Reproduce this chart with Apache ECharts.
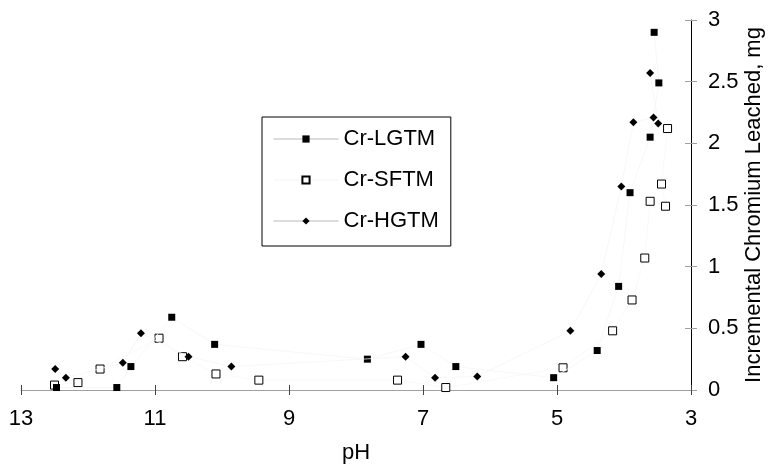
<!DOCTYPE html>
<html>
<head>
<meta charset="utf-8">
<script src="https://cdn.jsdelivr.net/npm/echarts@6/dist/echarts.min.js"></script>
<style>
html,body{margin:0;padding:0;background:#fff;}
#chart{width:768px;height:467px;}
</style>
</head>
<body>
<div id="chart"></div>
<script>
// ---- Data ----
var seriesNames = ['Cr-LGTM', 'Cr-SFTM', 'Cr-HGTM'];
var xTicks = [13, 11, 9, 7, 5, 3];
var yTicks = [0, 0.5, 1, 1.5, 2, 2.5, 3];

var lgtmPH  = [12.47, 11.57, 11.36, 10.75, 10.11, 7.83, 7.03, 6.51, 5.05, 4.40, 4.08, 3.91, 3.61, 3.48, 3.55];
var lgtmVal = [0.02, 0.02, 0.19, 0.59, 0.37, 0.25, 0.37, 0.19, 0.10, 0.32, 0.84, 1.60, 2.05, 2.49, 2.90];

var sftmPH  = [12.50, 12.15, 11.82, 10.94, 10.59, 10.09, 9.45, 7.38, 6.66, 4.91, 4.17, 3.88, 3.69, 3.61, 3.38, 3.44, 3.35];
var sftmVal = [0.04, 0.06, 0.17, 0.42, 0.27, 0.13, 0.08, 0.08, 0.02, 0.18, 0.48, 0.73, 1.07, 1.53, 1.49, 1.67, 2.12];

var hgtmPH  = [12.49, 12.33, 11.48, 11.21, 10.50, 9.86, 7.26, 6.82, 6.19, 4.80, 4.34, 4.04, 3.86, 3.56, 3.49, 3.61];
var hgtmVal = [0.17, 0.10, 0.22, 0.46, 0.27, 0.19, 0.27, 0.10, 0.11, 0.48, 0.94, 1.65, 2.17, 2.21, 2.16, 2.57];

function pairs(xs, ys) {
  return xs.map(function (x, i) { return [x, ys[i]]; });
}

var FONT = 'Liberation Sans, Arial, sans-serif';
var FS = 22;
var chart = echarts.init(document.getElementById('chart'), null, {renderer: 'canvas'});

var xMin = Math.min.apply(null, xTicks), xMax = Math.max.apply(null, xTicks);
var yMin = Math.min.apply(null, yTicks), yMax = Math.max.apply(null, yTicks);

chart.setOption({
  animation: false,
  backgroundColor: '#fff',
  textStyle: {fontFamily: FONT},
  grid: {left: 21, right: 77, top: 20, bottom: 77, containLabel: false, outerBoundsMode: 'none'},
  legend: {
    orient: 'vertical',
    left: 262, top: 117,
    borderColor: '#000', borderWidth: 1,
    padding: [11, 12, 14, 11],
    itemWidth: 65, itemHeight: 9, itemGap: 19,
    textStyle: {fontFamily: FONT, fontSize: FS, color: '#000', lineHeight: 22},
    data: [
      {name: seriesNames[0], lineStyle: {color: '#b8b8b8', width: 1}},
      {name: seriesNames[1], lineStyle: {color: '#f4f4f4', width: 1}},
      {name: seriesNames[2], lineStyle: {color: '#b8b8b8', width: 1}}
    ]
  },
  xAxis: [{
    type: 'value', inverse: true, min: xMin, max: xMax, interval: 2,
    name: 'pH', nameLocation: 'middle', nameGap: 52, nameMoveOverlap: false,
    nameTextStyle: {fontFamily: FONT, fontSize: FS, color: '#000'},
    axisLine: {show: true, lineStyle: {color: '#a0a0a0', width: 1}},
    axisTick: {show: true, length: 5, lineStyle: {color: '#444'}},
    axisLabel: {fontFamily: FONT, fontSize: FS, color: '#000', margin: 18},
    splitLine: {show: false}
  }, {
    type: 'value', inverse: true, min: xMin, max: xMax, interval: 2,
    position: 'bottom',
    axisLine: {show: false},
    axisTick: {show: true, inside: true, length: 5, lineStyle: {color: '#444'}},
    axisLabel: {show: false},
    splitLine: {show: false}
  }],
  yAxis: [{
    type: 'value', position: 'right', min: yMin, max: yMax, interval: 0.5,
    name: 'Incremental Chromium Leached, mg', nameLocation: 'middle', nameGap: 52, nameRotate: 90,
    nameMoveOverlap: false,
    nameTextStyle: {fontFamily: FONT, fontSize: FS, color: '#000'},
    axisLine: {show: true, lineStyle: {color: '#000', width: 1}},
    axisTick: {show: true, length: 6, lineStyle: {color: '#a0a0a0'}},
    axisLabel: {fontFamily: FONT, fontSize: FS, color: '#000', margin: 17},
    splitLine: {show: false}
  }, {
    type: 'value', position: 'right', min: yMin, max: yMax, interval: 0.5,
    axisLine: {show: false},
    axisTick: {show: true, inside: true, length: 6, lineStyle: {color: '#a0a0a0'}},
    axisLabel: {show: false},
    splitLine: {show: false}
  }],
  series: [{
    name: seriesNames[0], type: 'line', data: pairs(lgtmPH, lgtmVal),
    symbol: 'rect', symbolSize: 7,
    itemStyle: {color: '#000', borderColor: '#000', borderWidth: 0},
    lineStyle: {color: '#f5f5f5', width: 0.8},
    z: 3
  }, {
    name: seriesNames[1], type: 'line', data: pairs(sftmPH, sftmVal),
    symbol: 'rect', symbolSize: 8,
    itemStyle: {color: '#fff', borderColor: '#000', borderWidth: 1},
    lineStyle: {color: '#f8f8f8', width: 0.8},
    z: 2
  }, {
    name: seriesNames[2], type: 'line', data: pairs(hgtmPH, hgtmVal),
    symbol: 'diamond', symbolSize: 8,
    itemStyle: {color: '#000', borderColor: '#000', borderWidth: 0},
    lineStyle: {color: '#f5f5f5', width: 0.8},
    z: 4
  }]
});
</script>
</body>
</html>
